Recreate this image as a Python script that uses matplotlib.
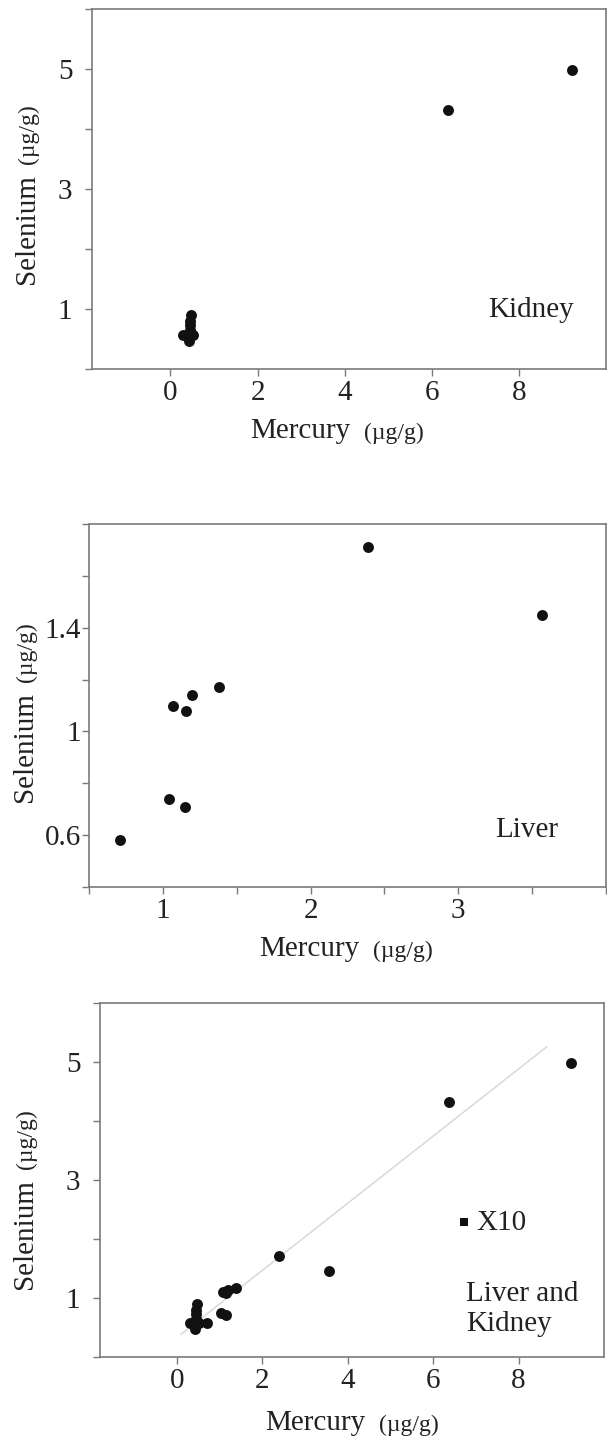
import matplotlib
matplotlib.use("Agg")
import matplotlib.pyplot as plt

W, H = 607, 1441

# values (mercury vs selenium, ug/g)
kidney_hg = [0.30, 0.42, 0.52, 0.44, 0.45, 0.47, 0.44, 6.38, 9.22]
kidney_se = [0.57, 0.47, 0.57, 0.65, 0.73, 0.90, 0.80, 4.32, 4.98]
liver_hg = [0.71, 1.04, 1.15, 1.07, 1.16, 1.20, 1.38, 2.39, 3.57]
liver_se = [0.58, 0.74, 0.71, 1.10, 1.08, 1.14, 1.17, 1.71, 1.45]

# regression line of the combined panel
fit_hg = [0.10, 8.66]
fit_slope = 0.569
fit_intercept = 0.33

# "X10" scale marker
x10_hg = [6.73]
x10_se = [2.29]

wide_xticks = [0, 2, 4, 6, 8]
wide_yticks = [1, 3, 5]
wide_yminor = [0, 2, 4, 6]
liver_xticks = [1, 2, 3]
liver_xminor = [0.5, 1.5, 2.5, 3.5, 4.0]
liver_yticks = [0.6, 1.0, 1.4]
liver_ylabels = ["0.6", "1", "1.4"]
liver_yminor = [0.4, 0.8, 1.2, 1.6, 1.8]

plt.rcParams["font.family"] = ["Liberation Serif", "DejaVu Serif"]

SPINE = "#7a7a7a"
DOT = "#111111"
TXT = "#222222"
TICK_FS = 21
LABEL_FS = 21
UNIT_FS = 17


def px_axes(left, top, right, bottom):
    return [left / W, 1 - bottom / H, (right - left) / W, (bottom - top) / H]


def style(ax, ypad):
    for s in ax.spines.values():
        s.set_color(SPINE)
        s.set_linewidth(1.2)
    ax.tick_params(which="both", direction="out", length=5, width=1.0, color=SPINE,
                   labelsize=TICK_FS, labelcolor=TXT)
    ax.tick_params(axis="x", which="both", pad=3)
    ax.tick_params(axis="y", which="both", pad=ypad)


def labels(ax, ylab_x, ylab_bottom, xlab_left, xlab_base):
    t = fig.text(ylab_x / W, 1 - ylab_bottom / H, "Selenium", rotation=90,
                 ha="center", va="bottom", fontsize=LABEL_FS, color=TXT)
    ax.annotate("(µg/g)", xy=(0.5, 1), xycoords=t, xytext=(1, 7),
                textcoords="offset points", rotation=90, ha="center",
                va="bottom", fontsize=UNIT_FS, color=TXT, annotation_clip=False)
    m = fig.text(xlab_left / W, 1 - xlab_base / H, "Mercury", ha="left",
                 va="baseline", fontsize=LABEL_FS, color=TXT)
    ax.annotate("(µg/g)", xy=(1, 0), xycoords=m, xytext=(10, 0),
                textcoords="offset points", ha="left", va="bottom",
                fontsize=UNIT_FS, color=TXT, annotation_clip=False)


fig = plt.figure(figsize=(W / 100, H / 100), dpi=100)
fig.patch.set_facecolor("white")

# Kidney
ax1 = fig.add_axes(px_axes(92, 9, 606, 369))
ax1.scatter(kidney_hg, kidney_se, s=62, color=DOT, zorder=3, linewidths=0)
ax1.set_xlim(-1.8, 10)
ax1.set_ylim(0, 6)
ax1.set_xticks(wide_xticks)
ax1.set_yticks(wide_yticks)
ax1.set_yticks(wide_yminor, minor=True)
style(ax1, 9)
ax1.text(7.3, 0.98, "Kidney", ha="left", va="center", fontsize=LABEL_FS, color=TXT)
labels(ax1, 27, 284, 250, 438)

# Liver
ax2 = fig.add_axes(px_axes(89, 524, 606, 887))
ax2.scatter(liver_hg, liver_se, s=62, color=DOT, zorder=3, linewidths=0)
ax2.set_xlim(0.5, 4.0)
ax2.set_ylim(0.4, 1.8)
ax2.set_xticks(liver_xticks)
ax2.set_xticks(liver_xminor, minor=True)
ax2.set_yticks(liver_yticks)
ax2.set_yticklabels(liver_ylabels)
ax2.set_yticks(liver_yminor, minor=True)
style(ax2, 1)
ax2.text(3.25, 0.62, "Liver", ha="left", va="center", fontsize=LABEL_FS, color=TXT)
labels(ax2, 25, 802, 259, 956)

# Liver and kidney combined
ax3 = fig.add_axes(px_axes(100, 1003, 604, 1357))
ax3.plot(fit_hg, [fit_slope * x + fit_intercept for x in fit_hg],
         color="#d9d9d9", linewidth=1.1, zorder=1)
ax3.scatter(kidney_hg + liver_hg, kidney_se + liver_se, s=62, color=DOT,
            zorder=3, linewidths=0)
ax3.scatter(x10_hg, x10_se, s=32, marker="s", color=DOT, zorder=3, linewidths=0)
ax3.text(7.0, 2.27, "X10", ha="left", va="center", fontsize=LABEL_FS, color=TXT)
ax3.text(6.78, 0.82, "Liver and\nKidney", ha="left", va="center",
         fontsize=LABEL_FS, color=TXT, linespacing=1.2)
ax3.set_xlim(-1.8, 10)
ax3.set_ylim(0, 6)
ax3.set_xticks(wide_xticks)
ax3.set_yticks(wide_yticks)
ax3.set_yticks(wide_yminor, minor=True)
style(ax3, 9)
labels(ax3, 25, 1289, 265, 1430)

fig.savefig("out.png", dpi=100, facecolor=fig.get_facecolor())
